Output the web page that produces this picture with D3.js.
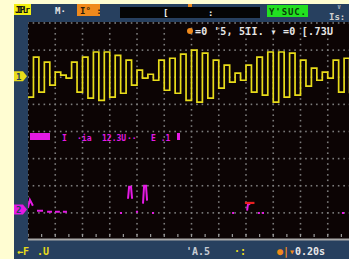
<!DOCTYPE html>
<html>
<head>
<meta charset="utf-8">
<script src="https://cdn.jsdelivr.net/npm/d3@7"></script>
<style>
html, body { margin: 0; padding: 0; background: #fffdd2; }
svg { display: block; }
text { font-family: "DejaVu Sans Mono", monospace; font-weight: bold; }
</style>
</head>
<body>
<svg width="349" height="259"></svg>
<script>
/*
Trace data.
Time is in divisions, values in divisions relative to each channel's ground marker.
*/
var sampleStep = 0.2;     // divisions between ch1 samples
var ch1Offset = 2.04,     // ch1 ground marker, divisions above centre
    ch2Offset = -2.96;    // ch2 ground marker
var ch1Values = [
  -0.77, 0.70, -0.59, 0.52, -0.33, 0.15, 0.04, -0.07, 0.52, -0.59,
   0.70, -0.81, 0.89, -0.89, 0.89, -0.77, 0.77, -0.63, 0.59, -0.33,
   0.22, -0.07, 0.07, -0.15, 0.59, -0.52, 0.66, -0.63, 0.81, -0.89,
   0.96, -0.96, 0.85, -0.81, 0.59, -0.44, 0.41, -0.22, 0.11, -0.15,
   0.41, -0.59, 0.70, -0.70, 0.89, -0.96, 0.89, -0.77, 0.85, -0.70,
   0.59, -0.37, 0.30, -0.15, 0.15, -0.07, 0.59, -0.59, 0.66, -0.63
];
// ch2 is mostly dark, only these pieces show; null = gap
var ch2Points = [
  [0, 0.15], [0.07, 0.44], [0.18, 0.22], null,
  [0.33, 0.04], [0.55, 0.04], null,
  [0.70, 0], [0.88, 0], null,
  [0.99, 0], [1.17, 0], null,
  [1.28, 0], [1.43, 0], null,
  [3.38, -0.04], [3.45, -0.04], null,
  [3.67, 0.48], [3.71, 0.92], [3.78, 0.92], [3.82, 0.48], null,
  [3.96, 0], [4.04, 0], null,
  [4.22, 0.30], [4.26, 0.96], [4.33, 0.96], [4.37, 0.41], null,
  [4.55, -0.04], [4.62, -0.04], null,
  [7.49, -0.04], [7.56, -0.04], null,
  [8.04, 0.04], [8.07, 0.26], [8.15, 0.30], null,
  [8.44, -0.04], [8.51, -0.04], null,
  [8.59, -0.04], [8.66, -0.04], null,
  [11.52, -0.04], [11.60, -0.04]
];
var trigger = {time: 7.96, level: 0.33};
var headerTexts = ["JIPLr", "M\u00b7", "I\u00b0 :", "[", ":", "Y'SUC.", "Is:", "\u2228"];
var infoText = "=0 '5, 5II.  \u25be =0 [.73U";
var measureTexts = ["I", "\u00b7ia", "12.3U", "\u00b7\u00b7", "E .1"];
var footerTexts = ["\u2190F", ".U", "'A.5", "\u00b7:", "\u25cf|\u25be", "0.20s"];

/*
Frame
*/
var svg = d3.select("svg"),
    W = +svg.attr("width"),
    H = +svg.attr("height");

var xScale = d3.scaleLinear().domain([0, 12]).range([28, 355]),
    yScale = d3.scaleLinear().domain([-4, 4]).range([240, 23]);

svg.append("rect").attr("width", W).attr("height", H).attr("fill", "#fffdd2");
svg.append("rect").attr("x", 14).attr("y", 4).attr("width", W - 14).attr("height", H - 4).attr("fill", "#27405f");
svg.append("rect").attr("x", 28).attr("y", 22).attr("width", W - 28).attr("height", 218).attr("fill", "#0c0404");

svg.append("clipPath").attr("id", "clip")
  .append("rect").attr("x", 28).attr("y", 22).attr("width", W - 28).attr("height", 218);

var g = svg.append("g").attr("clip-path", "url(#clip)");

/*
Dotted graticule
*/
var dots = [];
d3.range(0, 13).forEach(function(i) {
  d3.range(0, 40).forEach(function(k) { dots.push([xScale(i), yScale(-4 + k * 0.2)]); });
});
d3.range(1, 9).forEach(function(j) {
  d3.range(0, 60).forEach(function(k) { dots.push([xScale(k * 0.2), yScale(-4 + j)]); });
});
g.selectAll(".dot").data(dots).enter().append("rect")
  .attr("class", "dot")
  .attr("x", function(d) { return d[0] - 0.8; })
  .attr("y", function(d) { return d[1] - 0.8; })
  .attr("width", 1.6).attr("height", 1.6)
  .attr("fill", "#7c7c7c");

// bottom rule with small ticks
svg.append("rect").attr("x", 28).attr("y", yScale(-4) - 1.5).attr("width", W - 28).attr("height", 2).attr("fill", "#a8a8a8");
g.selectAll(".tick").data(d3.range(0, 24)).enter().append("rect")
  .attr("x", function(d) { return xScale(d * 0.5) - 0.6; })
  .attr("y", yScale(-4) - 6).attr("width", 1.2).attr("height", 3)
  .attr("fill", "#9a9a9a");

/*
Traces
*/
var line1 = d3.line()
    .curve(d3.curveStepAfter)
    .x(function(d, i) { return xScale(i * sampleStep); })
    .y(function(d) { return yScale(d + ch1Offset); });

g.append("path")
  .attr("d", line1(ch1Values))
  .attr("fill", "none")
  .attr("stroke", "#e8dc1a")
  .attr("stroke-width", 1.7);

var line2 = d3.line()
    .defined(function(d) { return d !== null; })
    .x(function(d) { return xScale(d[0]); })
    .y(function(d) { return yScale(d[1] + ch2Offset); });

g.append("path")
  .attr("d", line2(ch2Points))
  .attr("fill", "none")
  .attr("stroke", "#e41ae4")
  .attr("stroke-width", 2);

// trigger level marker
g.append("rect")
  .attr("x", xScale(trigger.time))
  .attr("y", yScale(trigger.level + ch2Offset) - 1)
  .attr("width", xScale(0.35) - xScale(0))
  .attr("height", 2.2)
  .attr("fill", "#e82020");

/*
Channel ground markers
*/
function marker(yv, color, label) {
  var y = yScale(yv);
  svg.append("path")
    .attr("d", "M14," + (y - 5) + "H23L27," + y + "L23," + (y + 5) + "H14Z")
    .attr("fill", color);
  svg.append("text").attr("x", 16).attr("y", y + 3.5)
    .attr("font-size", 9).attr("fill", "#27405f").text(label);
}
marker(ch1Offset, "#e8dc1a", "1");
marker(ch2Offset + 0.08, "#e41ae4", "2");

/*
Header bar
*/
svg.append("rect").attr("x", 14).attr("y", 4).attr("width", 17).attr("height", 11).attr("fill", "#f2ee10");
svg.append("text").attr("x", 15).attr("y", 13).attr("font-size", 8).attr("textLength", 15)
  .attr("fill", "#111").text(headerTexts[0]);
svg.append("text").attr("x", 55).attr("y", 14).attr("font-size", 9).attr("fill", "#e8e8e8").text(headerTexts[1]);
svg.append("rect").attr("x", 77).attr("y", 4).attr("width", 23).attr("height", 12).attr("fill", "#f08a1c");
svg.append("text").attr("x", 80).attr("y", 13.5).attr("font-size", 9).attr("fill", "#2a1a08").text(headerTexts[2]);
svg.append("rect").attr("x", 120).attr("y", 7).attr("width", 140).attr("height", 11).attr("fill", "#050505");
svg.append("text").attr("x", 163).attr("y", 16).attr("font-size", 9).attr("fill", "#f0f0f0").text(headerTexts[3]);
svg.append("text").attr("x", 208).attr("y", 16).attr("font-size", 9).attr("fill", "#f0f0f0").text(headerTexts[4]);
svg.append("rect").attr("x", 188).attr("y", 4).attr("width", 4).attr("height", 3).attr("fill", "#f08a1c");
svg.append("rect").attr("x", 267).attr("y", 5).attr("width", 41).attr("height", 12).attr("fill", "#22e020");
svg.append("text").attr("x", 269).attr("y", 14.5).attr("font-size", 9).attr("textLength", 37)
  .attr("fill", "#0a3a0a").text(headerTexts[5]);
svg.append("text").attr("x", 329).attr("y", 20).attr("font-size", 9).attr("fill", "#d0d0d0").text(headerTexts[6]);
svg.append("text").attr("x", 337).attr("y", 9).attr("font-size", 7).attr("fill", "#9aa4b4").text(headerTexts[7]);

// second status row, inside the screen
svg.append("circle").attr("cx", 190).attr("cy", 31).attr("r", 3).attr("fill", "#f08a1c");
svg.append("text").attr("x", 195).attr("y", 34.5).attr("font-size", 10).attr("textLength", 138)
  .attr("fill", "#e8e8e8").text(infoText);

/*
ch2 measurement line
*/
svg.append("rect").attr("x", 30).attr("y", 133).attr("width", 20).attr("height", 7).attr("fill", "#e41ae4");
var mx = [62, 77, 102, 127, 151];
measureTexts.forEach(function(t, i) {
  svg.append("text").attr("x", mx[i]).attr("y", 140.5).attr("font-size", 8)
    .attr("fill", "#e41ae4").text(t);
});
svg.append("rect").attr("x", 177).attr("y", 133).attr("width", 3).attr("height", 7).attr("fill", "#e41ae4");

/*
Footer
*/
var fx = [17, 37, 186, 234, 277, 295],
    fc = ["#e8dc1a", "#e8dc1a", "#c8ccd4", "#e8dc1a", "#f08a1c", "#e8e8e8"];
footerTexts.forEach(function(t, i) {
  svg.append("text").attr("x", fx[i]).attr("y", 255).attr("font-size", 10)
    .attr("fill", fc[i]).text(t);
});
</script>
</body>
</html>
